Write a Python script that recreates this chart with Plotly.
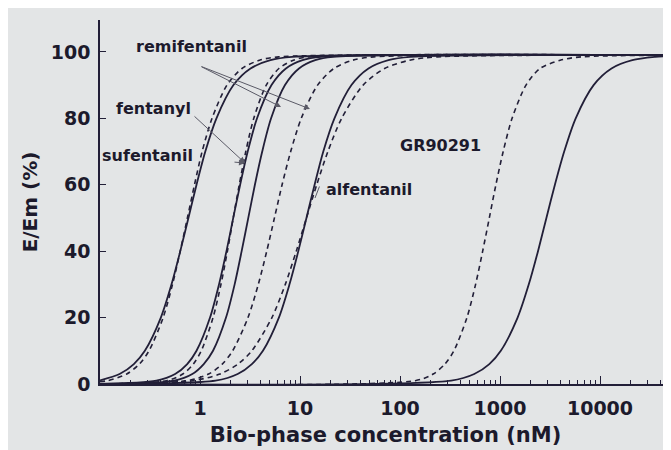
import plotly.graph_objects as go

E_STD = [0, 1, 3, 6, 10, 20, 30, 40, 50, 60, 70, 80, 90, 95, 97.5, 98.5, 99]

sufentanil_solid_c = [0.1, 0.157, 0.218, 0.281, 0.406, 0.519, 0.635, 0.766, 0.923, 1.13, 1.46, 2.16, 3.20, 5.06, 8.37, 51000]
sufentanil_solid_e = [1.1, 3, 6, 10, 20, 30, 40, 50, 60, 70, 80, 90, 95, 97.5, 98.5, 99]
sufentanil_dashed_c = [0.1, 0.119, 0.185, 0.248, 0.309, 0.428, 0.531, 0.634, 0.748, 0.881, 1.05, 1.32, 1.86, 2.63, 3.94, 6.14, 51000]
sufentanil_dashed_e = [0.7, 1, 3, 6, 10, 20, 30, 40, 50, 60, 70, 80, 90, 95, 97.5, 98.5, 99]
fentanyl_solid_c = [0.1, 0.366, 0.564, 0.745, 0.923, 1.26, 1.55, 1.84, 2.15, 2.52, 3.00, 3.72, 5.19, 7.23, 10.6, 16.3, 51000]
fentanyl_dashed_c = [0.1, 0.463, 0.673, 0.857, 1.03, 1.35, 1.62, 1.88, 2.15, 2.47, 2.87, 3.45, 4.60, 6.15, 8.59, 12.4, 51000]
remifentanil_solid_c = [0.1, 0.553, 0.838, 1.09, 1.35, 1.82, 2.22, 2.61, 3.04, 3.54, 4.19, 5.14, 7.08, 9.77, 14.2, 21.4, 51000]
remifentanil_dashed_c = [0.1, 0.748, 1.22, 1.67, 2.12, 3.02, 3.83, 4.65, 5.55, 6.62, 8.07, 10.3, 15.0, 21.8, 33.7, 54.6, 51000]
alfentanil_solid_c = [0.1, 1.43, 2.38, 3.30, 4.26, 6.15, 7.85, 9.62, 11.6, 14.0, 17.1, 22.1, 32.7, 48.4, 76.6, 127, 51000]
alfentanil_dashed_c = [0.1, 0.836, 1.58, 2.40, 3.30, 5.24, 7.13, 9.18, 11.6, 14.7, 19.0, 26.1, 42.8, 70.1, 125, 235, 51000]
gr90291_dashed_c = [0.1, 142, 215, 281, 346, 467, 570, 671, 782, 910, 1076, 1321, 1820, 2512, 4000, 6500, 51000]
gr90291_solid_c = [0.1, 325, 553, 782, 1019, 1500, 1941, 2399, 2911, 3540, 4385, 5715, 8630, 13030, 21040, 35650, 51000]
gr90291_solid_e = [0, 1, 3, 6, 10, 20, 30, 40, 50, 60, 70, 80, 90, 95, 97.5, 98.5, 98.8]

x_tick_vals = [1, 10, 100, 1000, 10000]
x_tick_text = ["1", "10", "100", "1000", "10000"]
x_decades = [0.1, 1, 10, 100, 1000, 10000]
x_minor_digits = [2, 3, 4, 5, 6, 7, 8, 9]
y_tick_vals = [0, 20, 40, 60, 80, 100]

x_minor_vals = [round(d * k, 6) for d in x_decades for k in x_minor_digits if d * k <= 51000]

INK = "#221f38"
BG = "#e3e5e6"
FONT = "DejaVu Sans"
X_RANGE = [-1, 4.71]

curves = [
    (sufentanil_solid_c, sufentanil_solid_e, "solid"),
    (sufentanil_dashed_c, sufentanil_dashed_e, "dash"),
    (fentanyl_solid_c, E_STD, "solid"),
    (fentanyl_dashed_c, E_STD, "dash"),
    (remifentanil_solid_c, E_STD, "solid"),
    (remifentanil_dashed_c, E_STD, "dash"),
    (alfentanil_solid_c, E_STD, "solid"),
    (alfentanil_dashed_c, E_STD, "dash"),
    (gr90291_dashed_c, E_STD, "dash"),
    (gr90291_solid_c, gr90291_solid_e, "solid"),
]

fig = go.Figure()
for c, e, style in curves:
    fig.add_trace(go.Scatter(
        x=c, y=e, mode="lines",
        line=dict(color=INK, width=1.8 if style == "solid" else 1.6,
                  dash="solid" if style == "solid" else "5px,4px",
                  shape="spline", smoothing=0.8),
        showlegend=False, hoverinfo="skip"))

# empty trace so the overlaid minor-tick axis is drawn
fig.add_trace(go.Scatter(x=[], y=[], xaxis="x2", yaxis="y", showlegend=False, hoverinfo="skip"))

W, H = 671, 450
L, R, T, B = 92, 8, 12, 74
PW, PH = W - L - R, H - T - B


def px(xp):
    return (xp - L) / PW


def py(yp):
    return (H - B - yp) / PH


label_font = dict(family=FONT, size=16, color="#1c1a2c", weight="bold")
labels = [
    ("remifentanil", 183, 39),
    ("fentanyl", 145, 100),
    ("sufentanil", 139, 147),
    ("alfentanil", 361, 181),
    ("GR90291", 432, 137),
]
annotations = []
for text, xp, yp in labels:
    annotations.append(dict(text=text, x=px(xp), y=py(yp), xref="paper", yref="paper",
                            showarrow=False, font=label_font, xanchor="center", yanchor="middle"))

arrows = [
    # head (px, py), tail offset (ax, ay)
    (273, 99, -81, -41, 2),
    (302, 101, -110, -43, 2),
    (237, 155, -52, -48, 2),
    (237, 155, -12, -1, 2),
    (307, 190, 5, -13, 0),
]
for hx, hy, ax, ay, head in arrows:
    annotations.append(dict(text="", x=px(hx), y=py(hy), xref="paper", yref="paper",
                            showarrow=True, ax=ax, ay=ay, axref="pixel", ayref="pixel",
                            arrowhead=head, arrowsize=1.2, arrowwidth=1, arrowcolor="#5a5a66"))

fig.update_layout(
    width=W, height=H,
    margin=dict(l=L, r=R, t=T, b=B),
    paper_bgcolor=BG, plot_bgcolor=BG,
    font=dict(family=FONT, color="#1c1a2c"),
    annotations=annotations,
    xaxis=dict(
        type="log", range=X_RANGE,
        tickmode="array", tickvals=x_tick_vals, ticktext=x_tick_text,
        ticks="inside", ticklen=8, tickwidth=1.4, tickcolor=INK,
        showline=True, linecolor=INK, linewidth=1.6,
        showgrid=False, zeroline=False,
        tickfont=dict(family=FONT, size=19, color="#1c1a2c", weight="bold"),
        ticklabelstandoff=6,
        title=dict(text="Bio-phase concentration (nM)", standoff=10,
                   font=dict(family=FONT, size=21, color="#1c1a2c", weight="bold")),
    ),
    xaxis2=dict(
        type="log", range=X_RANGE, overlaying="x", anchor="y", side="bottom",
        tickmode="array", tickvals=x_minor_vals, showticklabels=False,
        ticks="inside", ticklen=4, tickwidth=1.1, tickcolor=INK,
        showline=False, showgrid=False, zeroline=False,
    ),
    yaxis=dict(
        range=[0, 109.6],
        tickmode="array", tickvals=y_tick_vals,
        ticks="inside", ticklen=6, tickwidth=1.2, tickcolor=INK,
        showline=True, linecolor=INK, linewidth=1.6,
        showgrid=False, zeroline=False,
        tickfont=dict(family=FONT, size=19, color="#1c1a2c", weight="bold"),
        ticklabelstandoff=4,
        title=dict(text="E/Em (%)", standoff=8,
                   font=dict(family=FONT, size=20, color="#1c1a2c", weight="bold")),
    ),
)

fig.write_html("out.html")
